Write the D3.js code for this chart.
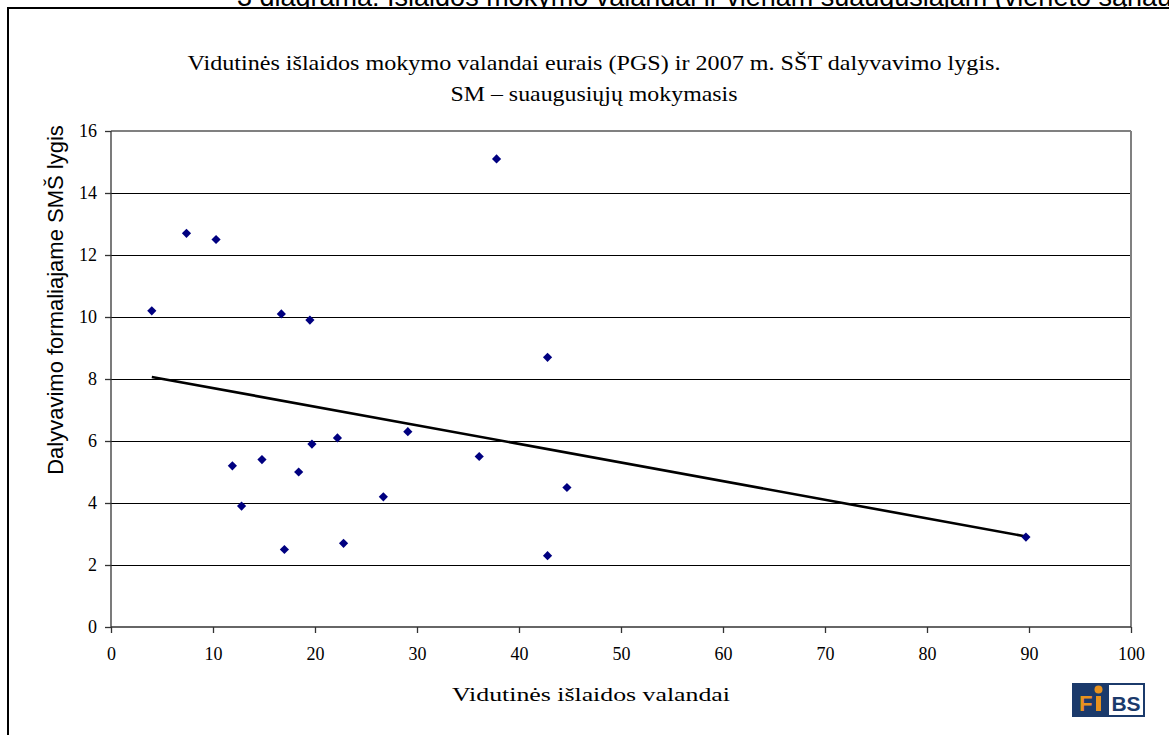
<!DOCTYPE html>
<html><head><meta charset="utf-8">
<script src="https://cdn.jsdelivr.net/npm/d3@7"></script>
<style>html,body{margin:0;padding:0;background:#fff;overflow:hidden}</style>
</head><body>
<svg id="c" width="1169" height="735"></svg>
<script>
// Data
const spending = [4.0, 7.4, 10.3, 16.7, 19.5, 37.8, 42.8, 11.9, 12.8, 14.8, 17.0, 18.4, 19.7, 22.2, 22.8, 26.7, 29.1, 36.1, 42.8, 44.7, 89.7];
const participation = [10.2, 12.7, 12.5, 10.1, 9.9, 15.1, 8.7, 5.2, 3.9, 5.4, 2.5, 5.0, 5.9, 6.1, 2.7, 4.2, 6.3, 5.5, 2.3, 4.5, 2.9];
const xTicks = [0, 10, 20, 30, 40, 50, 60, 70, 80, 90, 100];
const yTicks = [0, 2, 4, 6, 8, 10, 12, 14, 16];
const pageHeading = "3 diagrama: Išlaidos mokymo valandai ir vienam suaugusiajam (vieneto sąnaudos)";
const titleLines = ["Vidutinės išlaidos mokymo valandai eurais (PGS) ir 2007  m. SŠT dalyvavimo lygis.", "SM – suaugusiųjų mokymasis"];
const xTitle = "Vidutinės išlaidos valandai";
const yTitle = "Dalyvavimo formaliajame SMŠ lygis";

const svg = d3.select("#c");
const serif = "'Liberation Serif','Times New Roman',serif";
const sans = "'Liberation Sans',Arial,sans-serif";

const L = 111, R = 1131, T = 131, B = 627;
const x = d3.scaleLinear().domain([0, 100]).range([L, R]);
const y = d3.scaleLinear().domain([0, 16]).range([B, T]);

// page heading (cut off at top, as in the source page)
svg.append("text").attr("x", 237).attr("y", 6).attr("font-family", sans).attr("font-size", 27)
  .attr("fill", "#000").text(pageHeading);

// outer frame
svg.append("rect").attr("x", 8).attr("y", 8).attr("width", 1200).attr("height", 800)
  .attr("fill", "#fff").attr("stroke", "#000").attr("stroke-width", 2);

// chart title
const titleWidths = [813, 287];
svg.append("g").selectAll("text").data(titleLines).join("text")
  .attr("x", 594).attr("y", (d, i) => 70 + i * 31)
  .attr("text-anchor", "middle").attr("font-family", serif).attr("font-size", 21)
  .attr("textLength", (d, i) => titleWidths[i]).attr("lengthAdjust", "spacingAndGlyphs")
  .attr("fill", "#000").text(d => d);

// gridlines
svg.append("g").selectAll("line").data(yTicks.filter(v => v > 0)).join("line")
  .attr("x1", L).attr("x2", R).attr("y1", d => y(d)).attr("y2", d => y(d))
  .attr("stroke", d => d === 16 ? "#808080" : "#000").attr("stroke-width", d => d === 16 ? 2 : 1)
  .attr("shape-rendering", "crispEdges");

// right border of plot area
svg.append("line").attr("x1", R).attr("x2", R).attr("y1", T).attr("y2", B)
  .attr("stroke", "#808080").attr("stroke-width", 2);

// axes
const yAxis = svg.append("g").attr("transform", `translate(${L},0)`)
  .call(d3.axisLeft(y).tickValues(yTicks).tickSize(6).tickPadding(8).tickFormat(d3.format("d")));
const xAxis = svg.append("g").attr("transform", `translate(0,${B})`)
  .call(d3.axisBottom(x).tickValues(xTicks).tickSize(6).tickPadding(14).tickFormat(d3.format("d")));
[xAxis, yAxis].forEach(a => {
  a.selectAll(".domain").attr("stroke", "#333").attr("stroke-width", 1.3);
  a.selectAll(".tick line").attr("stroke", "#333").attr("stroke-width", 1.3);
  a.selectAll("text").attr("font-family", serif).attr("font-size", 18).attr("fill", "#000");
});
yAxis.select(".domain").attr("d", `M0,${B}V${T}`);
xAxis.select(".domain").attr("d", `M${L},0H${R}`);

// trend line (least squares fit of the points)
const n = spending.length;
const mx = d3.mean(spending), my = d3.mean(participation);
let sxy = 0, sxx = 0;
for (let i = 0; i < n; i++) { sxy += (spending[i] - mx) * (participation[i] - my); sxx += (spending[i] - mx) ** 2; }
const slope = sxy / sxx, icpt = my - slope * mx;
const [x0, x1] = d3.extent(spending);
svg.append("line").attr("x1", x(x0)).attr("y1", y(icpt + slope * x0))
  .attr("x2", x(x1)).attr("y2", y(icpt + slope * x1))
  .attr("stroke", "#000").attr("stroke-width", 2.6);

// points
const pts = spending.map((v, i) => [v, participation[i]]);
svg.append("g").selectAll("path").data(pts).join("path")
  .attr("transform", d => `translate(${x(d[0])},${y(d[1])})`)
  .attr("d", "M0,-4.6L4.6,0L0,4.6L-4.6,0Z").attr("fill", "#000080");

// axis titles
svg.append("text").attr("x", 591).attr("y", 701).attr("text-anchor", "middle")
  .attr("font-family", serif).attr("font-size", 19).attr("textLength", 278).attr("lengthAdjust", "spacingAndGlyphs")
  .attr("fill", "#000").text(xTitle);
svg.append("text").attr("transform", "translate(63,300) rotate(-90)").attr("text-anchor", "middle")
  .attr("font-family", sans).attr("font-size", 22).attr("fill", "#000").text(yTitle);

// logo
const lg = svg.append("g").attr("transform", "translate(1072,683)");
lg.append("rect").attr("x", 0).attr("y", 0).attr("width", 73).attr("height", 34).attr("fill", "#1b3a6b");
lg.append("rect").attr("x", 37).attr("y", 2).attr("width", 34).attr("height", 30).attr("fill", "#fff");
lg.append("text").attr("x", 7).attr("y", 28).attr("font-family", sans).attr("font-weight", "bold")
  .attr("font-size", 22).attr("fill", "#e8921e").text("F");
lg.append("rect").attr("x", 24).attr("y", 13).attr("width", 5).attr("height", 15).attr("fill", "#e8921e");
lg.append("circle").attr("cx", 26.5).attr("cy", 6.5).attr("r", 4).attr("fill", "#e8921e");
lg.append("text").attr("x", 54).attr("y", 28).attr("text-anchor", "middle").attr("font-family", sans)
  .attr("font-weight", "bold").attr("font-size", 21).attr("fill", "#1b3a6b").text("BS");
</script>
</body></html>
